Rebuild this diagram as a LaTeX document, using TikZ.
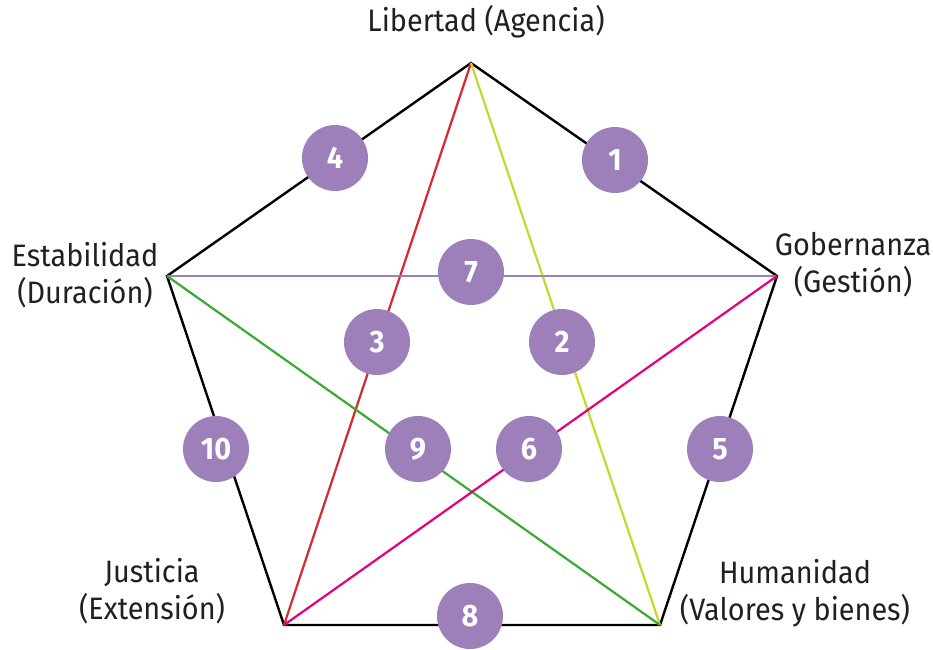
\documentclass[tikz,border=0pt]{standalone}
\usepackage{fontspec}
\setmainfont{Fira Sans}[FakeStretch=0.93]
\usetikzlibrary{positioning, calc}
\definecolor{badgepurple}{RGB}{157,127,186}
\definecolor{linered}{RGB}{214,40,47}
\definecolor{linelime}{RGB}{197,217,45}
\definecolor{linegreen}{RGB}{58,170,53}
\definecolor{linepink}{RGB}{230,0,126}
\definecolor{textgrey}{RGB}{35,31,32}

\begin{document}
\begin{tikzpicture}[
    x=1pt, y=-1pt,
    label/.style={align=center, font=\fontsize{31}{37}\selectfont, text=textgrey, inner sep=0pt},
    badge/.style={circle, fill=badgepurple, minimum size=66pt, inner sep=0pt,
        text=white, font=\fontsize{31}{32}\selectfont\bfseries},
    edge/.style={line width=2.4pt, black, line join=miter},
    diag/.style={line width=2.2pt}
]
\useasboundingbox (0,0) rectangle (933,649);
% corners of the pentagon
\coordinate (top) at (471,63);
\coordinate (rgt) at (777,276);
\coordinate (brt) at (660,625);
\coordinate (blt) at (284,625);
\coordinate (lft) at (167,276);
% outline
\draw[edge] (top) -- (rgt) -- (brt) -- (blt) -- (lft) -- cycle;
% diagonals
\draw[diag, linered] (top) -- (blt);
\draw[diag, linelime] (top) -- (brt);
\draw[diag, badgepurple] (lft) -- (rgt);
\draw[diag, linegreen] (lft) -- (brt);
\draw[diag, linepink] (rgt) -- (blt);
% numbered badges
\node[badge] (n1) at (615,160) {1};
\node[badge] (n4) at (335,158) {4};
\node[badge] (n7) at (471,272) {7};
\node[badge] (n3) at (377,342) {3};
\node[badge] (n2) at (562,342) {2};
\node[badge] (n10) at (216,449) {10};
\node[badge] (n9) at (418,449) {9};
\node[badge] (n6) at (529,449) {6};
\node[badge] (n5) at (720,449) {5};
\node[badge] (n8) at (470,616) {8};
% labels
\node[label] (libertad) at (486,22) {Libertad (Agencia)};
\node[label] (estab) at (85,275) {Estabilidad\\(Duración)};
\node[label] (gober) at (853,265) {Gobernanza\\(Gestión)};
\node[label] (justic) at (152,591) {Justicia\\(Extensión)};
\node[label] (human) at (795,593) {Humanidad\\(Valores y bienes)};
\end{tikzpicture}
\end{document}
